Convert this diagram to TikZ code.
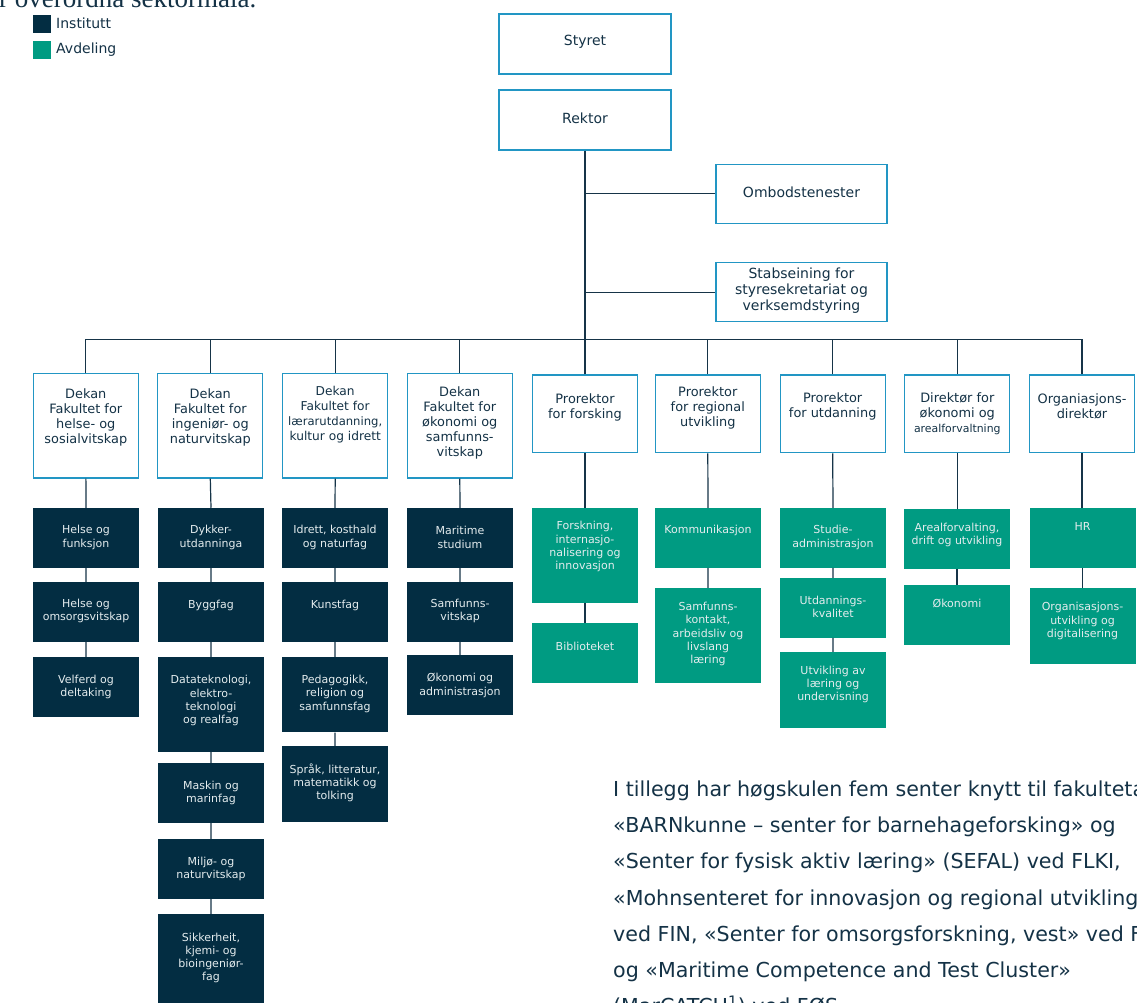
\documentclass[tikz,border=0pt]{standalone}
\usepackage{fontspec}
\setmainfont{DejaVu Sans}
\newfontfamily\serifx{Liberation Serif}
\definecolor{navy}{RGB}{3,45,66}
\definecolor{teal}{RGB}{0,155,130}
\definecolor{bord}{RGB}{34,150,196}
\definecolor{linec}{RGB}{22,52,72}
\definecolor{txtd}{RGB}{20,50,70}
\definecolor{txtl}{RGB}{228,236,238}
\newcommand\bx[8]{%
  \node[#1, minimum width=#5, minimum height=#6] (#2) at (#3,#4) {};
  \node[#1txt] (#2t) at (#3,#7) {#8};}
\begin{document}
\begin{tikzpicture}[x=1pt,y=-1pt,
  conn/.style={draw=linec, line width=1.2pt},
  topbox/.style={draw=bord, line width=1.2pt, fill=white, inner sep=0pt},
  topboxtxt/.style={align=center, inner sep=0pt, text=txtd, font=\fontsize{14}{16}\selectfont},
  lvbox/.style={draw=bord, line width=1.2pt, fill=white, inner sep=0pt},
  lvboxtxt/.style={align=center, inner sep=0pt, text=txtd, font=\fontsize{12.9}{15}\selectfont},
  lvsbox/.style={draw=bord, line width=1.2pt, fill=white, inner sep=0pt},
  lvsboxtxt/.style={align=center, inner sep=0pt, text=txtd, font=\fontsize{12.2}{15}\selectfont},
  ibox/.style={fill=navy, inner sep=0pt},
  iboxtxt/.style={align=center, inner sep=0pt, text=txtl, font=\fontsize{11}{13.3}\selectfont},
  abox/.style={fill=teal, inner sep=0pt},
  aboxtxt/.style={align=center, inner sep=0pt, text=txtl, font=\fontsize{11}{13.3}\selectfont},
  para/.style={anchor=base west, inner sep=0pt, text=txtd, font=\fontsize{20.6}{25}\selectfont},
  legtxt/.style={anchor=west, inner sep=0pt, text=txtd, font=\fontsize{14}{16}\selectfont}
]
\path[use as bounding box] (0,0) rectangle (1137,1003);
\clip (0,0) rectangle (1137,1003);
\fill[white] (0,0) rectangle (1137,1003);

% cut-off heading text
\node[anchor=base west, inner sep=0pt, text=txtd, font=\serifx\fontsize{27}{30}\selectfont] (intro) at (-1,7.5) {r overordna sektormåla.};

% legend
\node[ibox, minimum size=18] (leginst) at (42,24) {};
\node[legtxt] (leginstt) at (56,23) {Institutt};
\node[abox, minimum size=18] (legavd) at (42,50) {};
\node[legtxt] (legavdt) at (56,49.5) {Avdeling};

% top
\bx{topbox}{styret}{585}{44}{172}{60}{42}{Styret}
\bx{topbox}{rektor}{585}{120}{172}{60}{118}{Rektor}
\bx{topbox}{omb}{801.5}{193.8}{171}{59}{192}{Ombodstenester}
\bx{topbox}{stab}{801.5}{292.2}{171}{59}{291}{Stabseining for\\styresekretariat og\\verksemdstyring}

% level 1
\bx{lvbox}{d1}{85.8}{425.7}{105}{104.7}{417.5}{Dekan\\Fakultet for\\helse- og\\sosialvitskap}
\bx{lvbox}{d2}{210.3}{425.7}{105}{104.7}{417.5}{Dekan\\Fakultet for\\ingeniør- og\\naturvitskap}
\bx{lvsbox}{d3}{335.2}{425.7}{105}{104.7}{415}{Dekan\\Fakultet for\\{\fontsize{11.6}{15}\selectfont lærarutdanning,}\\kultur og idrett}
\bx{lvbox}{d4}{459.8}{425.7}{105}{104.7}{422.7}{Dekan\\Fakultet for\\økonomi og\\samfunns-\\vitskap}
\bx{lvbox}{p5}{585}{413.8}{105}{77.7}{407}{Prorektor\\for forsking}
\bx{lvbox}{p6}{707.8}{413.8}{105}{77.7}{407.7}{Prorektor\\for regional\\utvikling}
\bx{lvbox}{p7}{832.7}{413.8}{105}{77.7}{406.8}{Prorektor\\for utdanning}
\bx{lvbox}{p8}{957.3}{413.8}{105}{77.7}{414}{Direktør for\\økonomi og\\{\fontsize{10.9}{15}\selectfont arealforvaltning}}
\bx{lvbox}{p9}{1082}{413.8}{105}{77.7}{406.8}{Organiasjons-\\direktør}

% level 2 - col 1
\bx{ibox}{a1}{86}{537.8}{106}{59.7}{537.5}{Helse og\\funksjon}
\bx{ibox}{a2}{86}{611.8}{106}{59.7}{611.3}{Helse og\\omsorgsvitskap}
\bx{ibox}{a3}{86}{686.8}{106}{59.7}{687}{Velferd og\\deltaking}
% col 2
\bx{ibox}{b1}{211}{537.8}{106}{59.7}{537.5}{Dykker-\\utdanninga}
\bx{ibox}{b2}{211}{611.8}{106}{59.7}{605}{Byggfag}
\bx{ibox}{b3}{211}{704.3}{106}{94.7}{700.7}{Datateknologi,\\elektro-\\teknologi\\og realfag}
\bx{ibox}{b4}{211}{792.8}{106}{59.7}{792.8}{Maskin og\\marinfag}
\bx{ibox}{b5}{211}{868.8}{106}{59.7}{868.7}{Miljø- og\\naturvitskap}
\bx{ibox}{b6}{211}{958.5}{106}{89}{958}{Sikkerheit,\\kjemi- og\\bioingeniør-\\fag}
% col 3
\bx{ibox}{c1}{335}{537.8}{106}{59.7}{537.5}{Idrett, kosthald\\og naturfag}
\bx{ibox}{c2}{335}{611.8}{106}{59.7}{605}{Kunstfag}
\bx{ibox}{c3}{335}{694.7}{106}{75.3}{693.8}{Pedagogikk,\\religion og\\samfunnsfag}
\bx{ibox}{c4}{335}{783.8}{106}{75.7}{782.7}{Språk, litteratur,\\matematikk og\\tolking}
% col 4
\bx{ibox}{e1}{460}{537.8}{106}{59.7}{537.5}{Maritime\\studium}
\bx{ibox}{e2}{460}{611.8}{106}{59.7}{611.3}{Samfunns-\\vitskap}
\bx{ibox}{e3}{460}{684.8}{106}{59.7}{685.5}{Økonomi og\\administrasjon}
% col 5
\bx{abox}{f1}{585}{555.3}{106}{94.7}{546.7}{Forskning,\\internasjo-\\nalisering og\\innovasjon}
\bx{abox}{f2}{585}{652.8}{106}{59.7}{646.7}{Biblioteket}
% col 6
\bx{abox}{g1}{708}{537.8}{106}{59.7}{530.7}{Kommunikasjon}
\bx{abox}{g2}{708}{635.3}{106}{94.7}{634.2}{Samfunns-\\kontakt,\\arbeidsliv og\\livslang\\læring}
% col 7
\bx{abox}{h1}{833}{537.8}{106}{59.7}{537.5}{Studie-\\administrasjon}
\bx{abox}{h2}{833}{607.8}{106}{59.7}{606.8}{Utdannings-\\kvalitet}
\bx{abox}{h3}{833}{689.8}{106}{75.7}{684.5}{Utvikling av\\læring og\\undervisning}
% col 8
\bx{abox}{i1}{957}{538.8}{106}{59.7}{535.2}{Arealforvalting,\\drift og utvikling}
\bx{abox}{i2}{957}{614.8}{106}{59.7}{603.3}{Økonomi}
% col 9
\bx{abox}{j1}{1082.5}{537.8}{106}{59.7}{526}{HR}
\bx{abox}{j2}{1082.5}{625.8}{106}{75.7}{621}{Organisasjons-\\utvikling og\\digitalisering}

% connectors
\coordinate (bus) at (585,339.7);
\draw[conn] (rektor.south) -- (bus);
\draw[conn] (rektor.south |- omb.west) -- (omb.west);
\draw[conn] (rektor.south |- stab.west) -- (stab.west);
\draw[conn] (d1.north) -- (d1.north |- bus) -- (p9.north |- bus) -- (p9.north);
\foreach \n in {d2,d3,d4,p5,p6,p7,p8}{\draw[conn] (\n.north) -- (\n.north |- bus);}
\draw[conn] (d1) -- (a1) (a1) -- (a2) (a2) -- (a3);
\draw[conn] (d2.south) -- (b1.north) (b1) -- (b2) (b2) -- (b3) (b3) -- (b4) (b4) -- (b5) (b5) -- (b6);
\draw[conn] (d3.south) -- (c1.north) (c1) -- (c2) (c2) -- (c3) (c3) -- (c4);
\draw[conn] (d4.south) -- (e1.north) (e1) -- (e2) (e2) -- (e3);
\draw[conn] (p5.south) -- (f1.north) (f1) -- (f2);
\draw[conn] (p6.south) -- (g1.north) (g1) -- (g2);
\draw[conn] (p7.south) -- (h1.north) (h1) -- (h2) (h2) -- (h3);
\draw[conn] (p8.south) -- (p8.south |- i1.north) (i1) -- (i2);
\draw[conn] (p9.south) -- (p9.south |- j1.north) (j1) -- (j2);

% paragraph
\node[para] (l1) at (613,796) {I tillegg har høgskulen fem senter knytt til fakulteta:};
\node[para] (l2) at (613,832.3) {«BARNkunne – senter for barnehageforsking» og};
\node[para] (l3) at (613,868.6) {«Senter for fysisk aktiv læring» (SEFAL) ved FLKI,};
\node[para] (l4) at (613,905) {«Mohnsenteret for innovasjon og regional utvikling»};
\node[para] (l5) at (613,941.2) {ved FIN, «Senter for omsorgsforskning, vest» ved FHS};
\node[para] (l6) at (613,977.5) {og «Maritime Competence and Test Cluster»};
\node[para] (l7) at (613,1013.8) {(MarCATCH\textsuperscript{1}) ved FØS.};
\end{tikzpicture}
\end{document}
